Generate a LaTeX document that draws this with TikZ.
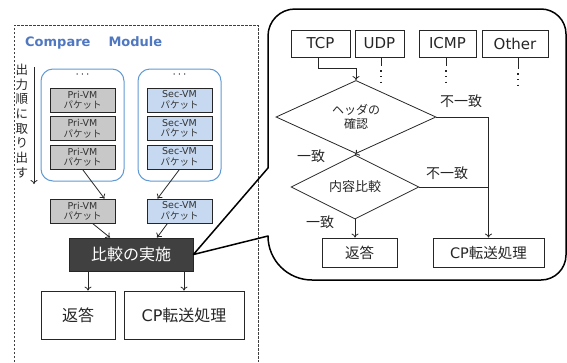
\documentclass[tikz,border=0pt]{standalone}
\usepackage{fontspec}
\setmainfont{DejaVu Sans}
\newfontfamily\jp{Noto Sans CJK JP}
\usetikzlibrary{arrows.meta,shapes.geometric}
\definecolor{Module_blue}{RGB}{79,120,192}
\definecolor{Queue_line}{RGB}{97,153,212}
\definecolor{Pri_fill}{RGB}{200,200,200}
\definecolor{Sec_fill}{RGB}{198,217,240}
\definecolor{Cmp_fill}{RGB}{64,64,64}

\begin{document}
\begin{tikzpicture}[x=1pt, y=-1pt,
    line/.style={draw=black!85, line width=0.8pt},
    arr/.style={line, -{To[length=4pt,width=7pt]}},
    pkt/.style={draw=black!85, line width=0.8pt, minimum width=65pt, minimum height=24pt,
      inner sep=0pt, align=center, text=black!80, font=\fontsize{9.5}{10.5}\selectfont},
    queue/.style={draw=Queue_line, line width=1pt, rounded corners=12pt,
      minimum width=83pt, minimum height=112pt, inner sep=0pt},
    resbox/.style={draw=black!85, line width=0.8pt, inner sep=0pt, text=black!85},
    proto/.style={resbox, minimum height=27pt, font=\fontsize{15}{17}\selectfont},
    check/.style={draw=black!85, line width=0.8pt, shape=diamond, inner sep=0pt,
      align=center, text=black!85},
    lbl/.style={inner sep=0pt, text=black!85, font=\jp\fontsize{14}{16}\selectfont},
    vdots/.style={draw=black!85, line width=1.3pt, dash pattern=on 1.3pt off 4.3pt}]
\useasboundingbox (0,0) rectangle (567,362);

%% Compare module
\draw[black!75, line width=0.8pt, dash pattern=on 2.5pt off 1.5pt]
  (14,362) -- (14,25) -- (258,25) -- (258,362);
\node[anchor=west, inner sep=0pt, text=Module_blue, font=\bfseries\fontsize{13}{15}\selectfont]
  (title) at (25,43) {Compare\hspace{18pt}Module};

% order of output
\node[align=center, inner sep=0pt, text=black!85, font=\jp\fontsize{12.5}{14.7}\selectfont]
  (order) at (22,121) {出\\力\\順\\に\\取\\り\\出\\す};
\coordinate (ordTop) at (34,67);
\coordinate (ordBot) at (34,184);
\draw[arr] (ordTop) -- (ordBot);

% packet queues
\node[queue] (priQ) at (82.5,125) {};
\node[queue] (secQ) at (179.5,125) {};
\node[inner sep=0pt, font=\fontsize{13}{13}\selectfont] (priDots) at (82.5,75) {$\cdots$};
\node[inner sep=0pt, font=\fontsize{13}{13}\selectfont] (secDots) at (179.5,75) {$\cdots$};
\foreach \y [count=\i] in {100,128.5,157} {
  \node[pkt, fill=Pri_fill] (pri\i) at (82.5,\y) {Pri-VM\\{\jp パケット}};
  \node[pkt, fill=Sec_fill] (sec\i) at (179.5,\y) {Sec-VM\\{\jp パケット}};
}
\node[pkt, fill=Pri_fill] (priOut) at (82.5,211) {Pri-VM\\{\jp パケット}};
\node[pkt, fill=Sec_fill] (secOut) at (179.5,211) {Sec-VM\\{\jp パケット}};

\node[resbox, fill=Cmp_fill, text=white, minimum width=124pt, minimum height=33pt,
  font=\jp\fontsize{16}{18}\selectfont] (cmp) at (131,254.5) {比較の実施};
\node[resbox, minimum width=74pt, minimum height=48pt, font=\jp\fontsize{16}{18}\selectfont]
  (ansL) at (78,315) {返答};
\node[resbox, minimum width=120pt, minimum height=48pt, font=\fontsize{16}{18}\selectfont]
  (cpL) at (184,315) {CP{\jp 転送処理}};

\draw[arr] (pri3.south) -- ([xshift=22pt]priOut.north);
\draw[arr] (sec3.south) -- ([xshift=-22pt]secOut.north);
\draw[arr] ([xshift=10pt]priOut.south) -- ([xshift=-21pt]cmp.north);
\draw[arr] ([xshift=-12pt]secOut.south) -- ([xshift=26pt]cmp.north);
\draw[arr] ([xshift=-43pt]cmp.south) -- ([xshift=10pt]ansL.north);
\draw[arr] ([xshift=53pt]cmp.south) -- (cpL.north);

%% Callout with the detail
\draw[black, line width=1.5pt, line join=round]
  (268,168) -- (cmp.east) -- (268,236)
  arc[start angle=180, end angle=90, radius=44] -- (541,280)
  arc[start angle=90, end angle=0, radius=25] -- (566,34)
  arc[start angle=0, end angle=-90, radius=25] -- (295,9)
  arc[start angle=-90, end angle=-180, radius=27] -- cycle;

% protocols
\node[proto, minimum width=59pt] (tcp) at (320.5,43.5) {TCP};
\node[proto, minimum width=49pt] (udp) at (379.5,43.5) {UDP};
\node[proto, minimum width=57pt] (icmp) at (447.5,43.5) {ICMP};
\node[proto, minimum width=66pt] (other) at (515,43.5) {Other};
\draw[line] (udp.south) ++(1.5,0) -- ++(0,9) coordinate (udpEnd);
\draw[vdots] (udpEnd) ++(0,4) -- ++(0,14);
\draw[line] (icmp.south) ++(-1.5,0) -- ++(0,9) coordinate (icmpEnd);
\draw[vdots] (icmpEnd) ++(0,4) -- ++(0,14);
\draw[line] (other.south) ++(3,0) -- ++(0,12) coordinate (otherEnd);
\draw[vdots] (otherEnd) ++(0,4) -- ++(0,14);

% checks
\node[check, minimum width=160pt, minimum height=58pt, font=\jp\fontsize{12}{14}\selectfont]
  (hdr) at (356,117) {ヘッダの\\確認};
\node[check, minimum width=128pt, minimum height=52pt, font=\jp\fontsize{13}{15}\selectfont]
  (cont) at (355,187) {内容比較};
\node[resbox, minimum width=75pt, minimum height=29pt, font=\jp\fontsize{14.5}{16}\selectfont]
  (ansR) at (359.5,252.5) {返答};
\node[resbox, minimum width=111pt, minimum height=29pt, font=\fontsize{14.5}{16}\selectfont]
  (cpR) at (488.5,252.5) {CP{\jp 転送処理}};

\draw[arr] ([xshift=-2.5pt]tcp.south) -- ++(0,11) -| (hdr.north);
\draw[arr] (hdr.south) -- (cont.north);
\draw[arr] (hdr.east) -| (cpR.north);
\draw[line] (cont.east) -- (cont.east -| cpR.north);
\draw[arr] (cont.south) -- (cont.south |- ansR.north);

\node[lbl] (ngHdr) at (461,101) {不一致};
\node[lbl] (okHdr) at (311,156) {一致};
\node[lbl] (ngCont) at (447,173) {不一致};
\node[lbl] (okCont) at (320,222) {一致};
\end{tikzpicture}
\end{document}
